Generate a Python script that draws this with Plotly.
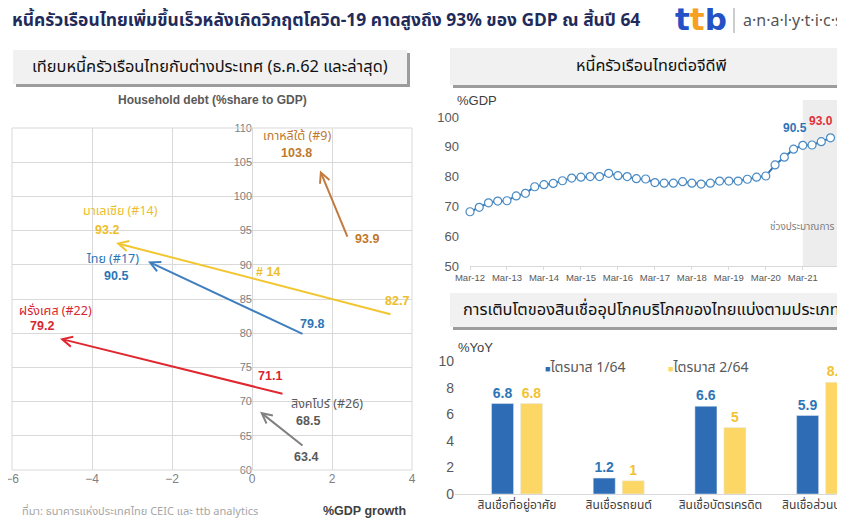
import plotly.graph_objects as go

# The page body has an 8px margin, so the figure is offset by 8px in the window.
OFF = 8
W, H = 845 - OFF, 519 - OFF


def px(x):
    return (x - OFF) / W


def py(y):
    return 1 - (y - OFF) / H


THAI = "Noto Sans Thai, Tahoma, Noto Sans, Liberation Sans, sans-serif"
ARIAL = "Liberation Sans, Arial, sans-serif"

# ---------------- data: left panel (arrows) ----------------
countries = ["เกาหลีใต้ (#9)", "มาเลเซีย (#14)", "ไทย (#17)", "ฝรั่งเศส (#22)", "สิงคโปร์ (#26)"]
growth_dec62 = [2.4, 3.5, 1.3, 0.8, 1.3]
debt_dec62 = [93.9, 82.7, 79.8, 71.1, 63.4]
growth_latest = [1.7, -3.4, -2.6, -4.8, 0.2]
debt_latest = [103.8, 93.2, 90.5, 79.2, 68.5]
arrow_colors = ["#C27A3E", "#F2C631", "#3F7FBF", "#E0262F", "#808080"]
label_colors = ["#C0782C", "#EDBE2B", "#2E75B6", "#D7262E", "#595959"]

# ---------------- data: right top (line) ----------------
quarters_ticks = ["Mar-12", "Mar-13", "Mar-14", "Mar-15", "Mar-16",
                  "Mar-17", "Mar-18", "Mar-19", "Mar-20", "Mar-21"]
hh_debt_gdp = [68.2, 69.7, 71.2, 71.8, 71.9, 73.5, 74.4, 76.6, 77.3, 77.7,
               78.6, 79.5, 79.8, 80.0, 80.0, 81.1, 80.3, 80.0, 79.3, 79.2,
               78.0, 77.8, 77.8, 78.3, 77.8, 77.5, 77.8, 78.5, 78.5, 78.5,
               79.1, 79.8, 80.2, 83.9, 86.5, 89.2, 90.5, 90.6, 91.7, 93.0]

# ---------------- data: right bottom (bars) ----------------
loan_types = ["สินเชื่อที่อยู่อาศัย", "สินเชื่อรถยนต์", "สินเชื่อบัตรเครดิต", "สินเชื่อส่วนบุคคล"]
q1_64 = [6.8, 1.2, 6.6, 5.9]
q2_64 = [6.8, 1.0, 5.0, 8.4]
BLUE = "#2E6DB5"
YEL = "#FDD765"

fig = go.Figure()

# left panel: invisible scatter to establish axes
fig.add_trace(go.Scatter(x=growth_latest + growth_dec62, y=debt_latest + debt_dec62,
                         mode="markers", marker=dict(opacity=0), xaxis="x", yaxis="y",
                         hoverinfo="skip", showlegend=False))

# right top line
qx = list(range(len(hh_debt_gdp)))
fig.add_trace(go.Scatter(x=qx, y=hh_debt_gdp, mode="lines+markers",
                         line=dict(color="#2E75B6", width=2),
                         marker=dict(size=8, color="white", line=dict(color="#4A8BC4", width=1.2)),
                         xaxis="x2", yaxis="y2", cliponaxis=False, showlegend=False))

# bars
fig.add_trace(go.Bar(x=loan_types, y=q1_64, name="ไตรมาส 1/64", marker_color=BLUE,
                     text=[f"{v:g}" for v in q1_64], textposition="outside",
                     textfont=dict(color="#2E75B6", size=14, family=ARIAL, weight="bold"),
                     xaxis="x3", yaxis="y3", cliponaxis=False, showlegend=False))
fig.add_trace(go.Bar(x=loan_types, y=q2_64, name="ไตรมาส 2/64", marker_color=YEL,
                     text=[f"{v:g}" for v in q2_64], textposition="outside",
                     textfont=dict(color="#F2C232", size=14, family=ARIAL, weight="bold"),
                     xaxis="x3", yaxis="y3", cliponaxis=False, showlegend=False))

shapes = []
annotations = []

# ---------- header ----------
annotations.append(dict(xref="paper", yref="paper", x=px(10), y=py(20), xanchor="left", yanchor="middle",
                        text="<b>หนี้ครัวเรือนไทยเพิ่มขึ้นเร็วหลังเกิดวิกฤตโควิด-19 คาดสูงถึง 93% ของ GDP ณ สิ้นปี 64</b>",
                        font=dict(family=THAI, size=17.4, color="#1F2B5B"), showarrow=False))
annotations.append(dict(xref="paper", yref="paper", x=px(673), y=py(19), xanchor="left", yanchor="middle",
                        text="<b><span style='color:#2451C6'>t</span><span style='color:#F5A020'>t</span>"
                             "<span style='color:#2451C6'>b</span></b>",
                        font=dict(family="DejaVu Sans", size=31), showarrow=False))
shapes.append(dict(type="line", xref="paper", yref="paper", x0=px(734), x1=px(734), y0=py(6), y1=py(33),
                   line=dict(color="#9A9A9A", width=1)))
annotations.append(dict(xref="paper", yref="paper", x=px(741), y=py(20), xanchor="left", yanchor="middle",
                        text="a·n·a·l·y·t·i·c·s", font=dict(family="Noto Sans", size=16, color="#555555"),
                        showarrow=False))

# ---------- title boxes ----------
def title_box(x0, y0, x1, y1, text, size):
    shapes.append(dict(type="rect", xref="paper", yref="paper", x0=px(x0 + 3), x1=px(x1 + 3),
                       y0=py(y1 + 3), y1=py(y0 + 3), line=dict(width=0), fillcolor="#9C9C9C", layer="below"))
    shapes.append(dict(type="rect", xref="paper", yref="paper", x0=px(x0), x1=px(x1),
                       y0=py(y1), y1=py(y0), line=dict(width=0), fillcolor="#F1F1F1", layer="below"))
    annotations.append(dict(xref="paper", yref="paper", x=px((x0 + x1) / 2), y=py((y0 + y1) / 2),
                            xanchor="center", yanchor="middle", text=text,
                            font=dict(family=THAI, size=size, color="#111111"), showarrow=False))


title_box(13, 50, 407, 84, "เทียบหนี้ครัวเรือนไทยกับต่างประเทศ (ธ.ค.62 และล่าสุด)", 16.4)
title_box(450, 48, 852, 85, "หนี้ครัวเรือนไทยต่อจีดีพี", 16.2)
title_box(450, 293, 852, 327, "การเติบโตของสินเชื่ออุปโภคบริโภคของไทยแบ่งตามประเภท", 16.4)

# ---------- left panel ----------
annotations.append(dict(xref="paper", yref="paper", x=px(212), y=py(100), xanchor="center", yanchor="middle",
                        text="<b>Household debt (%share to GDP)</b>",
                        font=dict(family=ARIAL, size=12, color="#595959"), showarrow=False))
annotations.append(dict(xref="paper", yref="paper", x=px(408), y=py(511), xanchor="right", yanchor="middle",
                        text="<b>%GDP growth</b>", font=dict(family=ARIAL, size=12.5, color="#404040"),
                        showarrow=False))
annotations.append(dict(xref="paper", yref="paper", x=px(20), y=py(511), xanchor="left", yanchor="middle",
                        text="ที่มา: ธนาคารแห่งประเทศไทย CEIC และ ttb analytics",
                        font=dict(family=THAI, size=11, color="#A6A6A6"), showarrow=False))
shapes.append(dict(type="rect", xref="x domain", yref="y domain", x0=0, x1=1, y0=0, y1=1,
                   line=dict(color="#D9D9D9", width=1)))

for i in range(len(countries)):
    annotations.append(dict(xref="x", yref="y", axref="x", ayref="y",
                            x=growth_latest[i], y=debt_latest[i], ax=growth_dec62[i], ay=debt_dec62[i],
                            text="", showarrow=True, arrowhead=5, arrowsize=1, arrowwidth=2,
                            arrowcolor=arrow_colors[i], standoff=0))

# label positions (pixel centers): name, latest value, Dec-62 value
name_pos = [(297, 136), (121, 211), (113, 259), (55, 311), (327, 404)]
latest_pos = [(296, 153), (107, 230), (116, 276), (42, 326), (308, 421)]
before_pos = [(367, 239), (397, 301), (312, 324), (270, 376), (306, 457)]
for i in range(len(countries)):
    c = label_colors[i]
    annotations.append(dict(xref="paper", yref="paper", x=px(name_pos[i][0]), y=py(name_pos[i][1]),
                            xanchor="center", yanchor="middle", text=countries[i],
                            font=dict(family=THAI, size=12.5, color=c), showarrow=False))
    annotations.append(dict(xref="paper", yref="paper", x=px(latest_pos[i][0]), y=py(latest_pos[i][1]),
                            xanchor="center", yanchor="middle", text=f"<b>{debt_latest[i]:.1f}</b>",
                            font=dict(family=ARIAL, size=12.5, color=c), showarrow=False))
    annotations.append(dict(xref="paper", yref="paper", x=px(before_pos[i][0]), y=py(before_pos[i][1]),
                            xanchor="center", yanchor="middle", text=f"<b>{debt_dec62[i]:.1f}</b>",
                            font=dict(family=ARIAL, size=12.5, color=c), showarrow=False))
annotations.append(dict(xref="paper", yref="paper", x=px(268), y=py(272), xanchor="center", yanchor="middle",
                        text="<b># 14</b>", font=dict(family=ARIAL, size=12.5, color="#EDBE2B"),
                        showarrow=False))

# ---------- right top ----------
shapes.append(dict(type="rect", xref="x2", yref="y2 domain", x0=36, x1=39.7, y0=0, y1=1,
                   line=dict(width=0), fillcolor="#EDEDED", layer="below"))
annotations.append(dict(xref="paper", yref="paper", x=px(455), y=py(101), xanchor="left", yanchor="middle",
                        text="%GDP", font=dict(family=ARIAL, size=13, color="#404040"), showarrow=False))
annotations.append(dict(xref="paper", yref="paper", x=px(836), y=py(227), xanchor="right", yanchor="middle",
                        text="ช่วงประมาณการ", font=dict(family=THAI, size=10, color="#7F7F7F"),
                        showarrow=False))
annotations.append(dict(xref="x2", yref="y2", x=36, y=hh_debt_gdp[36], xshift=-8, yshift=17,
                        text=f"<b>{hh_debt_gdp[36]:.1f}</b>", font=dict(family=ARIAL, size=12, color="#2E75B6"),
                        showarrow=False))
annotations.append(dict(xref="x2", yref="y2", x=39, y=hh_debt_gdp[39], xshift=-10, yshift=17,
                        text=f"<b>{hh_debt_gdp[39]:.1f}</b>", font=dict(family=ARIAL, size=12, color="#E0303A"),
                        showarrow=False))

# ---------- right bottom ----------
annotations.append(dict(xref="paper", yref="paper", x=px(456), y=py(347), xanchor="left", yanchor="middle",
                        text="%YoY", font=dict(family=ARIAL, size=13, color="#404040"), showarrow=False))
annotations.append(dict(xref="paper", yref="paper", x=px(543), y=py(367), xanchor="left", yanchor="middle",
                        text=f"<span style='color:{BLUE};font-size:9px'>■</span>ไตรมาส 1/64",
                        font=dict(family=THAI, size=14, color="#595959"), showarrow=False))
annotations.append(dict(xref="paper", yref="paper", x=px(666), y=py(367), xanchor="left", yanchor="middle",
                        text=f"<span style='color:{YEL};font-size:9px'>■</span>ไตรมาส 2/64",
                        font=dict(family=THAI, size=14, color="#595959"), showarrow=False))

fig.update_layout(
    width=W, height=H, margin=dict(l=0, r=0, t=0, b=0, autoexpand=False),
    paper_bgcolor="white", plot_bgcolor="rgba(0,0,0,0)",
    shapes=shapes, annotations=annotations,
    barmode="group", bargap=0.43, bargroupgap=0.24,
    xaxis=dict(domain=[px(12), px(412)], range=[-6, 4], dtick=2, showgrid=True, gridcolor="#D9D9D9",
               zeroline=False, showline=False, ticks="", automargin=False, ticklabeloverflow="allow",
               tickfont=dict(family=ARIAL, size=12, color="#7F7F7F"), anchor="y"),
    yaxis=dict(domain=[py(470), py(128)], range=[60, 110], dtick=5, showgrid=True, gridcolor="#D9D9D9",
               zeroline=False, showline=False, ticks="", anchor="free", position=px(252), automargin=False,
               tickfont=dict(family=ARIAL, size=11, color="#7F7F7F")),
    xaxis2=dict(domain=[px(470), px(837)], range=[0, 39.7], tickvals=list(range(0, 40, 4)),
                ticktext=quarters_ticks, showgrid=False, zeroline=False, showline=True,
                linecolor="#D9D9D9", ticks="outside", ticklen=3, tickcolor="#D9D9D9", automargin=False,
                tickfont=dict(family=ARIAL, size=9.5, color="#595959"), anchor="y2"),
    yaxis2=dict(domain=[py(266), py(100)], range=[50, 105.7], tickvals=[50, 60, 70, 80, 90, 100],
                showgrid=False, zeroline=False, showline=False, ticks="", ticklabelstandoff=10,
                automargin=False,
                tickfont=dict(family=ARIAL, size=13, color="#595959"), anchor="x2"),
    xaxis3=dict(domain=[px(455), 1], range=[-0.61, 3.225], showgrid=False, zeroline=False, showline=True,
                linecolor="#D9D9D9", ticks="", tickfont=dict(family=THAI, size=12, color="#404040"),
                automargin=False, ticklabeloverflow="allow", anchor="y3"),
    yaxis3=dict(domain=[py(494), py(361)], range=[0, 10], dtick=2, showgrid=False, zeroline=False,
                showline=False, ticks="", automargin=False,
                tickfont=dict(family=ARIAL, size=14, color="#595959"), anchor="x3"),
)

fig.write_html("out.html")
